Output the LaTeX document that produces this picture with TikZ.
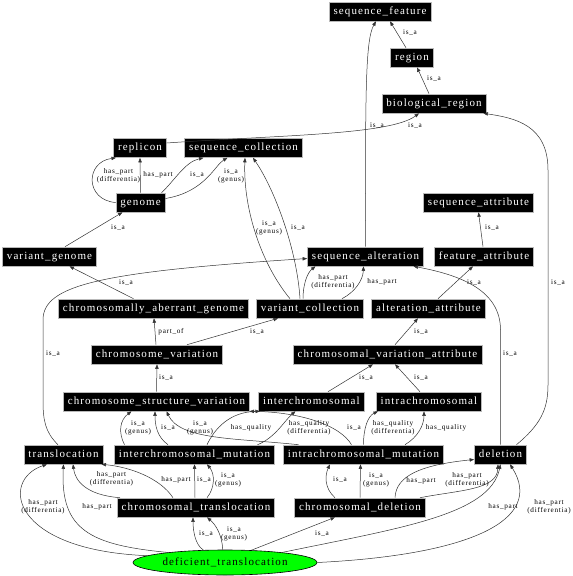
\documentclass[tikz,border=0pt]{standalone}
\usepackage{fontspec}
\setmainfont{Liberation Serif}
\newfontfamily\termfont[LetterSpace=10]{Liberation Serif}
\usepackage{tikz}
\usetikzlibrary{positioning,shapes.geometric,arrows.meta}

\begin{document}
\begin{tikzpicture}[x=1pt, y=-1pt,
  term/.style = {draw=gray!55, line width=0.6pt, fill=black, text=white,
    font=\termfont\fontsize{11}{12}\selectfont, text height=7.5pt, text depth=2.5pt,
    minimum height=19pt, inner ysep=0pt, inner xsep=4.5pt},
  root/.style = {draw=black, line width=0.6pt, fill=green, ellipse,
    font=\termfont\fontsize{11}{12}\selectfont, minimum width=184pt, minimum height=25pt, inner sep=0pt},
  rel/.style = {draw=black!80, line width=0.5pt, -{Triangle[length=4.5pt,width=3.4pt]}},
  lab/.style = {font=\termfont\fontsize{7.2}{8.3}\selectfont, align=center, inner sep=0pt}]
      \useasboundingbox (0,0) rectangle (573,576);
      \node[term] (seqfeat) at (380,11.5) {sequence\_feature};
      \node[term] (region) at (412,57.5) {region};
      \node[term] (bioreg) at (434,103.5) {biological\_region};
      \node[term] (replicon) at (140,148) {replicon};
      \node[term] (seqcoll) at (243.5,148) {sequence\_collection};
      \node[term] (genome) at (140.5,202.5) {genome};
      \node[term] (seqattr) at (478.5,202.5) {sequence\_attribute};
      \node[term] (vargenome) at (49.5,256.5) {variant\_genome};
      \node[term] (seqalt) at (365.5,256.5) {sequence\_alteration};
      \node[term] (featattr) at (484,256.5) {feature\_attribute};
      \node[term] (cag) at (153.5,308.5) {chromosomally\_aberrant\_genome};
      \node[term] (varcoll) at (310,308.5) {variant\_collection};
      \node[term] (altattr) at (428.5,308.5) {alteration\_attribute};
      \node[term] (chromvar) at (157,354.5) {chromosome\_variation};
      \node[term] (cva) at (387.5,354.5) {chromosomal\_variation\_attribute};
      \node[term] (csv) at (156.5,401.5) {chromosome\_structure\_variation};
      \node[term] (interchr) at (311.5,401.5) {interchromosomal};
      \node[term] (intrachr) at (429,401.5) {intrachromosomal};
      \node[term] (transloc) at (63.5,454.5) {translocation};
      \node[term] (intermut) at (194.5,454.5) {interchromosomal\_mutation};
      \node[term] (intramut) at (363.5,454.5) {intrachromosomal\_mutation};
      \node[term] (deletion) at (500.5,454.5) {deletion};
      \node[term] (chromtrans) at (196,507.5) {chromosomal\_translocation};
      \node[term] (chromdel) at (360,507.5) {chromosomal\_deletion};
      %% the query term
      \node[root] (deftrans) at (225,562.5) {deficient\_translocation};
      % upper part
      \draw[rel] ([xshift=-6pt]region.north) -- ([xshift=10pt]seqfeat.south) node[lab] at (410,33) {is\_a};
      \draw[rel] ([xshift=-5pt]bioreg.north) -- ([xshift=5pt]region.south) node[lab] at (434,79) {is\_a};
      \draw[rel] ([yshift=5pt]replicon.east) .. controls (280,135) and (390,135) .. ([xshift=-15pt]bioreg.south) node[lab] at (415,126) {is\_a};
      \draw[rel] (seqalt.north) .. controls (365.5,100) and (365,40) .. ([xshift=-4pt]seqfeat.south) node[lab] at (377,126) {is\_a};
      \draw[rel] ([xshift=16pt]deletion.north) .. controls (540,425) and (548,410) .. (548,385) -- (548,170) .. controls (548,125) and (515,118) .. ([xshift=-3pt]bioreg.south east) node[lab] at (558,283) {is\_a};
      \draw[rel] ([xshift=21pt]genome.north) .. controls (175,180) and (185,162) .. ([xshift=-40pt]seqcoll.south) node[lab] at (197,175) {is\_a};
      \draw[rel] ([yshift=4pt]genome.east) .. controls (205,192) and (215,165) .. ([xshift=-16pt]seqcoll.south) node[lab] at (231,176) {is\_a\\(genus)};
      \draw[rel] (genome.west) .. controls (85,200) and (85,162) .. ([xshift=-24pt]replicon.south) node[lab] at (118.5,176) {has\_part\\(differentia)};
      \draw[rel] (genome.north) -- (replicon.south) node[lab] at (158,175) {has\_part};
      \draw[rel] ([xshift=15.5pt]vargenome.north) -- ([xshift=-18pt]genome.south) node[lab] at (118,228) {is\_a};
      \draw[rel] ([xshift=-20pt]cag.north) -- ([xshift=20pt]vargenome.south) node[lab] at (126,283) {is\_a};
      \draw[rel] ([xshift=-5.5pt]transloc.north) .. controls (45,432) and (43,420) .. (43,400) -- (43,320) .. controls (43,285) and (100,272) .. ([yshift=-2pt]seqalt.west) node[lab] at (53,354) {is\_a};
      \draw[rel] ([xshift=-20pt]varcoll.north) .. controls (262,265) and (243,210) .. ([xshift=1.5pt]seqcoll.south) node[lab] at (269,228) {is\_a\\(genus)};
      \draw[rel] ([xshift=-10pt]varcoll.north) .. controls (297,250) and (275,190) .. ([xshift=9.5pt]seqcoll.south) node[lab] at (298,228) {is\_a};
      \draw[rel] ([xshift=-7pt]varcoll.north) .. controls (303,285) and (307,273) .. ([xshift=-50pt]seqalt.south) node[lab] at (333,282) {has\_part\\(differentia)};
      \draw[rel] ([xshift=32pt]varcoll.north) .. controls (355,292) and (363,280) .. ([xshift=-2pt]seqalt.south) node[lab] at (382,282) {has\_part};
      \draw[rel] ([xshift=-1pt]featattr.north) -- (seqattr.south) node[lab] at (492,228) {is\_a};
      \draw[rel] ([xshift=9.5pt]altattr.north) -- ([xshift=-11pt]featattr.south) node[lab] at (474,283) {is\_a};
      \draw[rel] (deletion.north) -- (500.5,330) .. controls (500.5,290) and (460,275) .. ([xshift=48pt]seqalt.south) node[lab] at (510,354) {is\_a};
      % middle part
      \draw[rel] ([xshift=-1pt]chromvar.north) -- ([xshift=0.5pt]cag.south) node[lab] at (171,332) {part\_of};
      \draw[rel] ([xshift=30pt]chromvar.north) -- ([xshift=-32pt]varcoll.south) node[lab] at (257,332) {is\_a};
      \draw[rel] (csv.north) -- (chromvar.south) node[lab] at (166,378) {is\_a};
      \draw[rel] ([xshift=7.5pt]cva.north) -- ([xshift=-10.5pt]altattr.south) node[lab] at (421,332) {is\_a};
      \draw[rel] ([xshift=16.5pt]interchr.north) -- ([xshift=-14.5pt]cva.south) node[lab] at (366,378) {is\_a};
      \draw[rel] ([xshift=-9pt]intrachr.north) -- ([xshift=7.5pt]cva.south) node[lab] at (421,378) {is\_a};
      \draw[rel] ([xshift=-70pt]intermut.north) .. controls (118,432) and (120,420) .. ([xshift=-25pt]csv.south) node[lab] at (138,428) {is\_a\\(genus)};
      \draw[rel] ([xshift=-26.5pt]intermut.north) .. controls (157,437) and (155,425) .. ([xshift=-1.5pt]csv.south) node[lab] at (168,428) {is\_a};
      \draw[rel] ([xshift=-65pt]intramut.north) .. controls (235,438) and (180,440) .. ([xshift=10pt]csv.south) node[lab] at (200,428) {is\_a\\(genus)};
      \draw[rel] ([xshift=-12pt]intramut.north) .. controls (340,425) and (300,412) .. ([xshift=93pt]csv.south) node[lab] at (354,428) {is\_a};
      \draw[rel] ([xshift=12.5pt]intermut.north) .. controls (215,428) and (230,412) .. ([xshift=-51.5pt]interchr.south) node[lab] at (251,428) {has\_quality};
      \draw[rel] ([xshift=63pt]intermut.north) .. controls (275,438) and (285,420) .. ([xshift=-16pt]interchr.south) node[lab] at (309,428) {has\_quality\\(differentia)};
      \draw[rel] (intramut.north) .. controls (363.5,428) and (368,416) .. ([xshift=-51pt]intrachr.south) node[lab] at (393,428) {has\_quality\\(differentia)};
      \draw[rel] ([xshift=41.5pt]intramut.north) .. controls (418,437) and (424,425) .. ([xshift=-5pt]intrachr.south) node[lab] at (446,428) {has\_quality};
      % lower part
      \draw[rel] ([xshift=-76pt]chromtrans.north) .. controls (85,495) and (75,480) .. ([xshift=9.5pt]transloc.south) node[lab] at (111.5,479) {has\_part\\(differentia)};
      \draw[rel] ([xshift=-23pt]chromtrans.north) .. controls (160,478) and (130,467) .. ([xshift=38pt]transloc.south) node[lab] at (176,480) {has\_part};
      \draw[rel] ([xshift=-1pt]chromtrans.north) -- (intermut.south) node[lab] at (204,480) {is\_a};
      \draw[rel] ([xshift=11pt]chromtrans.north) .. controls (215,488) and (215,474) .. ([xshift=12.5pt]intermut.south) node[lab] at (228,480) {is\_a\\(genus)};
      \draw[rel] (deftrans.175) .. controls (10,550) and (0,480) .. ([xshift=-16.5pt]transloc.south) node[lab] at (43,507) {has\_part\\(differentia)};
      \draw[rel] (deftrans.170) .. controls (90,545) and (60,530) .. (transloc.south) node[lab] at (97,507) {has\_part};
      \draw[rel] (deftrans.150) .. controls (195,545) and (193,530) .. ([xshift=-3pt]chromtrans.south) node[lab] at (206,534) {is\_a};
      \draw[rel] (deftrans.100) .. controls (222,535) and (216,525) .. ([xshift=11pt]chromtrans.south) node[lab] at (234,534) {is\_a\\(genus)};
      \draw[rel] (deftrans.25) -- ([xshift=-25pt]chromdel.south) node[lab] at (322,534) {is\_a};
      \draw[rel] (deftrans.10) .. controls (400,528) and (490,515) .. (deletion.south) node[lab] at (503,507) {has\_part};
      \draw[rel] (deftrans.east) .. controls (470,555) and (545,520) .. ([xshift=9.5pt]deletion.south) node[lab] at (549,507) {has\_part\\(differentia)};
      \draw[rel] ([xshift=-25pt]chromdel.north) .. controls (324,488) and (325,475) .. ([xshift=-33.5pt]intramut.south) node[lab] at (340,480) {is\_a};
      \draw[rel] (chromdel.north) -- ([xshift=-3pt]intramut.south) node[lab] at (376,480) {is\_a\\(genus)};
      \draw[rel] ([xshift=35pt]chromdel.north) .. controls (396,476) and (420,465) .. ([yshift=-5pt]deletion.west) node[lab] at (421,481) {has\_part};
      \draw[rel] ([xshift=60pt]chromdel.north) .. controls (460,490) and (497,490) .. ([xshift=-2.5pt]deletion.south) node[lab] at (467,480) {has\_part\\(differentia)};
\end{tikzpicture}
\end{document}
